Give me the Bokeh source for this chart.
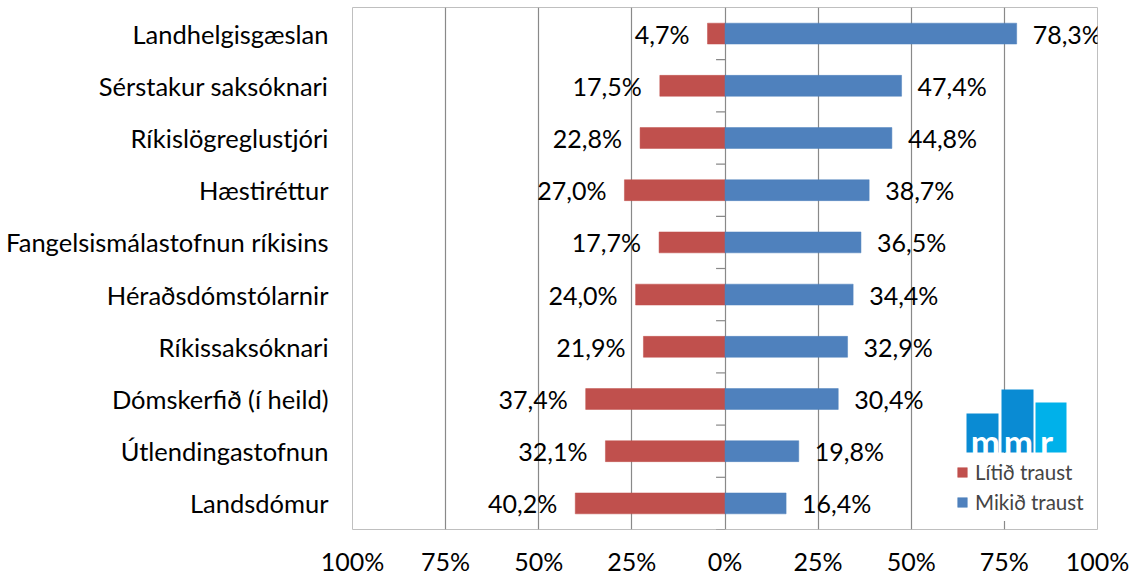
from bokeh.plotting import figure
from bokeh.models import FixedTicker, Range1d, Legend, LegendItem, ColumnDataSource
from bokeh.core.properties import value
from bokeh.embed import file_html
from bokeh.resources import INLINE

# ---------------- data ----------------
categories = ["Landhelgisgæslan", "Sérstakur saksóknari", "Ríkislögreglustjóri", "Hæstiréttur",
              "Fangelsismálastofnun ríkisins", "Héraðsdómstólarnir", "Ríkissaksóknari",
              "Dómskerfið (í heild)", "Útlendingastofnun", "Landsdómur"]
litid_traust = [4.7, 17.5, 22.8, 27.0, 17.7, 24.0, 21.9, 37.4, 32.1, 40.2]
mikid_traust = [78.3, 47.4, 44.8, 38.7, 36.5, 34.4, 32.9, 30.4, 19.8, 16.4]
x_ticks = [-100, -75, -50, -25, 0, 25, 50, 75, 100]
x_tick_labels = ["100%", "75%", "50%", "25%", "0%", "25%", "50%", "75%", "100%"]
series_names = ["Lítið traust", "Mikið traust"]

# ---------------- style ----------------
FONT = "Lato"
RED = "#c0504d"
BLUE = "#4f81bd"
GRID = "#898989"
CAT_SIZE = "25.5px"
LABEL_SIZE = "25px"

n = len(categories)
ypos = [n - 1 - i for i in range(n)]


def fmt(v):
    return f"{v:.1f}".replace(".", ",") + "%"


src = ColumnDataSource(dict(
    y=ypos,
    left_neg=[-v for v in litid_traust],
    right_pos=mikid_traust,
    lab_neg=[fmt(v) for v in litid_traust],
    lab_pos=[fmt(v) for v in mikid_traust],
))

FL, FT, FW, FH = 352, 7, 745, 522
p = figure(frame_width=FW, frame_height=FH,
           x_range=Range1d(-100, 100), y_range=Range1d(-0.5, n - 0.5),
           output_backend="svg", toolbar_location=None,
           min_border_left=FL, min_border_top=FT, min_border_right=32, min_border_bottom=44)
p.background_fill_color = "white"
p.border_fill_color = "white"
p.outline_line_color = "#bfbfbf"
p.outline_line_width = 1

# grid
p.ygrid.visible = False
p.xgrid.ticker = FixedTicker(ticks=[t for t in x_ticks if abs(t) < 100])
p.xgrid.grid_line_color = GRID
p.xgrid.grid_line_width = 1.2

# x axis
p.xaxis.ticker = FixedTicker(ticks=x_ticks)
p.xaxis.major_label_overrides = {t: l for t, l in zip(x_ticks, x_tick_labels)}
p.xaxis.axis_line_color = None
p.xaxis.major_tick_line_color = None
p.xaxis.minor_tick_line_color = None
p.xaxis.major_tick_out = 0
p.xaxis.major_tick_in = 0
p.xaxis.major_label_text_font = FONT
p.xaxis.major_label_text_font_size = LABEL_SIZE
p.xaxis.major_label_text_color = "black"
p.xaxis.major_label_standoff = 16

# y axis
p.yaxis.ticker = FixedTicker(ticks=ypos)
p.yaxis.major_label_overrides = {y: c for y, c in zip(ypos, categories)}
p.yaxis.axis_line_color = None
p.yaxis.major_tick_line_color = None
p.yaxis.minor_tick_line_color = None
p.yaxis.major_tick_out = 0
p.yaxis.major_tick_in = 0
p.yaxis.major_label_text_font = FONT
p.yaxis.major_label_text_font_size = CAT_SIZE
p.yaxis.major_label_text_color = "black"
p.yaxis.major_label_standoff = 24

# bars
BAR_H = 0.4
r_red = p.hbar(y="y", left="left_neg", right=0, height=BAR_H, source=src,
               fill_color=RED, line_color=RED, line_width=0.5)
r_blue = p.hbar(y="y", left=0, right="right_pos", height=BAR_H, source=src,
                fill_color=BLUE, line_color=BLUE, line_width=0.5)

# category tick marks on the zero axis
tick_y = [y + 0.5 for y in ypos[1:]] + [ypos[-1] - 0.5]
p.segment(x0=-2.4, x1=0, y0=tick_y, y1=tick_y, line_color=GRID, line_width=1.2)

# data labels
p.text(x="left_neg", y="y", text="lab_neg", source=src, text_align="right",
       text_baseline="middle", x_offset=-18, text_font=value(FONT),
       text_font_size=LABEL_SIZE, text_color="black")
p.text(x="right_pos", y="y", text="lab_pos", source=src, text_align="left",
       text_baseline="middle", x_offset=16, text_font=value(FONT),
       text_font_size=LABEL_SIZE, text_color="black")

# legend
legend = Legend(items=[LegendItem(label=series_names[0], renderers=[r_red]),
                       LegendItem(label=series_names[1], renderers=[r_blue])],
                location=(597, 8), orientation="vertical",
                label_text_font=FONT, label_text_font_size="20.5px",
                glyph_width=12, glyph_height=12, label_height=20,
                spacing=6, padding=7, margin=0, label_standoff=7,
                background_fill_color="white", background_fill_alpha=1,
                border_line_alpha=0)
p.add_layout(legend, "center")


# mmr logo (decoration), positioned via pixel -> data helpers
def dx(px):
    return -100 + (px - FL) / FW * 200


def dy(py):
    return (n - 0.5) - (py - FT) / FH * n


logo_left = [966, 1001, 1035]
logo_right = [998, 1033, 1066]
logo_top = [413, 389, 402]
logo_bottom = 452
logo_colors = ["#0a8bd3", "#0a8bd3", "#00b1ea"]
p.quad(left=[dx(v) for v in logo_left], right=[dx(v) for v in logo_right],
       top=[dy(v) for v in logo_top], bottom=[dy(logo_bottom)] * 3,
       fill_color=logo_colors, line_color=None)
logo_src = ColumnDataSource(dict(x=[dx(985), dx(1018), dx(1046)],
                                 y=[dy(440)] * 3,
                                 t=["m", "m", "r"]))
p.text(x="x", y="y", text="t", source=logo_src,
       text_align="center", text_baseline="middle", text_font=value(FONT),
       text_font_size="35px", text_color="white", text_font_style="bold")

open("out.html", "w").write(file_html(p, INLINE))
